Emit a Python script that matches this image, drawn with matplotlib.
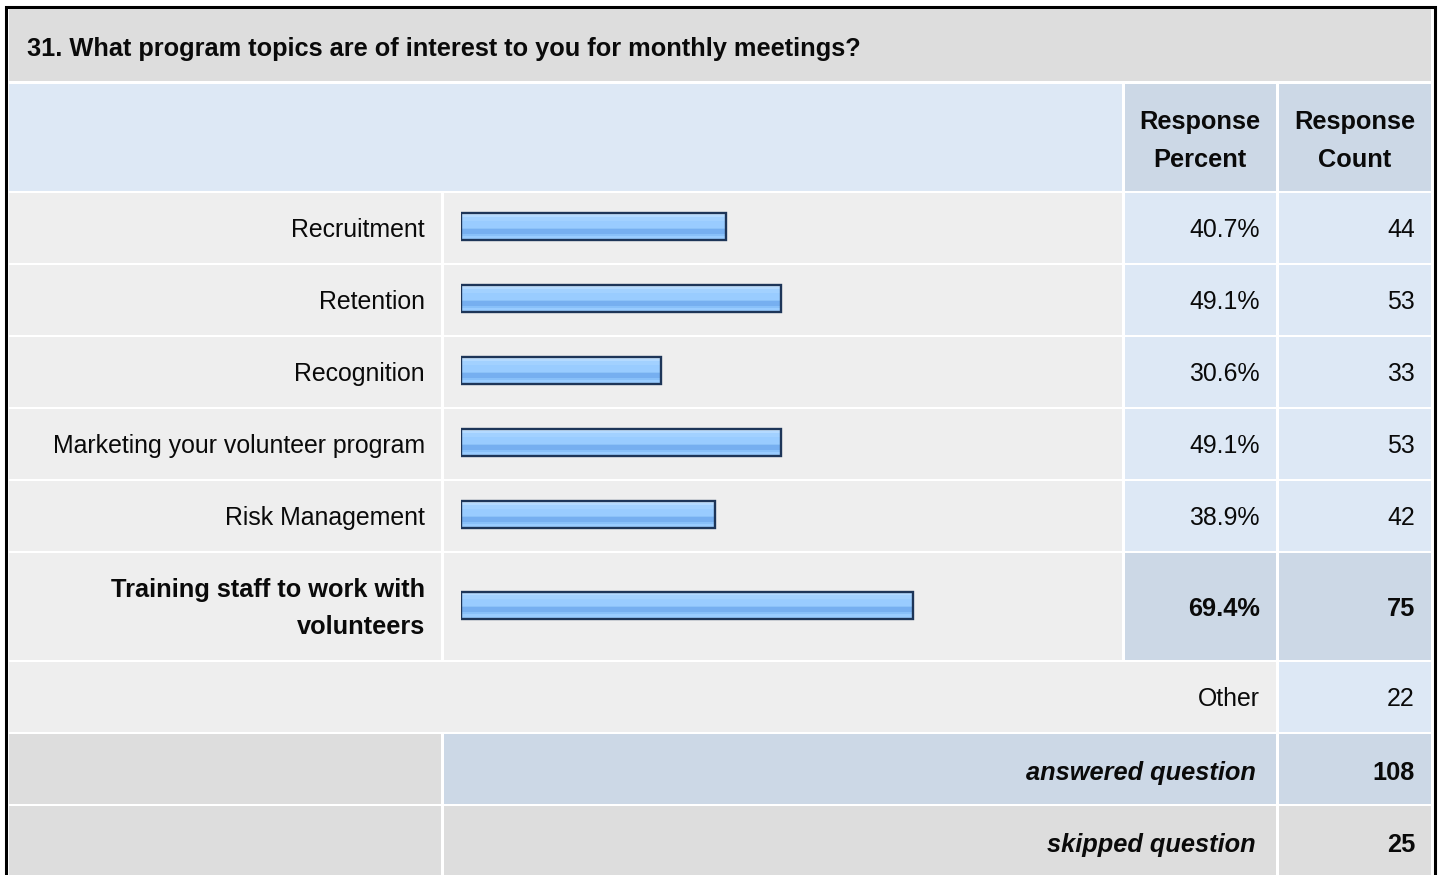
import numpy as np
import matplotlib
matplotlib.use("Agg")
import matplotlib.pyplot as plt
from matplotlib.patches import Rectangle
from matplotlib.colors import to_rgb

# ---- survey data ----
question = "31. What program topics are of interest to you for monthly meetings?"
topics = ["Recruitment", "Retention", "Recognition",
          "Marketing your volunteer program", "Risk Management",
          "Training staff to work with\nvolunteers"]
percents = [40.7, 49.1, 30.6, 49.1, 38.9, 69.4]
counts = [44, 53, 33, 53, 42, 75]
highlight = [False, False, False, False, False, True]
other_count = 22
answered = 108
skipped = 25

plt.rcParams['font.family'] = ['Liberation Sans', 'DejaVu Sans']

W, H = 1440, 875
fig = plt.figure(figsize=(W / 100, H / 100), dpi=100)
ax = fig.add_axes([0, 0, 1, 1])
ax.set_xlim(0, W)
ax.set_ylim(H, 0)
ax.axis('off')

FS = 17.9   # regular text
FSB = 18.3  # bold text
INK = '#0a0a0a'
GREY = "#dddddd"
LIGHT = "#eeeeee"
BLUE = "#dde8f5"
BLUE2 = "#ccd8e6"

# column edges
c_lab = (9, 441)
c_bar = (444, 1122)
c_pct = (1125, 1276)
c_cnt = (1279, 1431)
full = (9, 1431)


def cell(xr, yr, color):
    ax.add_patch(Rectangle((xr[0], yr[0]), xr[1] - xr[0], yr[1] - yr[0],
                           facecolor=color, edgecolor='none', zorder=1))


# outer frame
ax.add_patch(Rectangle((5.5, 6.5), 1429, 900, facecolor='white',
                       edgecolor='black', lw=2.2, zorder=0))

# title row
cell(full, (9, 81), GREY)
ax.text(27, 49, question, fontsize=FSB, fontweight='bold', ha='left',
        va='center', color=INK, zorder=3)

# header row
cell((9, 1122), (84, 191), BLUE)
cell(c_pct, (84, 191), BLUE2)
cell(c_cnt, (84, 191), BLUE2)
ax.text(1200, 141, "Response\nPercent", fontsize=FSB, fontweight='bold',
        ha='center', va='center', linespacing=1.7, color=INK, zorder=3)
ax.text(1355, 141, "Response\nCount", fontsize=FSB, fontweight='bold',
        ha='center', va='center', linespacing=1.7, color=INK, zorder=3)

# data rows
row_spans = [(193, 263), (265, 335), (337, 407), (409, 479), (481, 551),
             (553, 660)]
row_centers = []
for lab, pct, cnt, hi, yr in zip(topics, percents, counts, highlight,
                                 row_spans):
    cy = (yr[0] + yr[1]) / 2
    row_centers.append(cy)
    cell(c_lab, yr, LIGHT)
    cell(c_bar, yr, LIGHT)
    cell(c_pct, yr, BLUE2 if hi else BLUE)
    cell(c_cnt, yr, BLUE2 if hi else BLUE)
    w = 'bold' if hi else 'normal'
    fs = FSB if hi else FS
    ax.text(425, cy + 2, lab, fontsize=fs, fontweight=w, ha='right',
            va='center', ma='right', linespacing=1.72, color=INK,
            zorder=3)
    ax.text(1260, cy + 2, f"{pct:.1f}%", fontsize=fs, fontweight=w,
            ha='right', va='center', color=INK, zorder=3)
    ax.text(1415, cy + 2, f"{cnt}", fontsize=fs, fontweight=w,
            ha='right', va='center', color=INK, zorder=3)

# other row
yr = (662, 732)
cell((9, 1276), yr, LIGHT)
cell(c_cnt, yr, BLUE)
ax.text(1260, 699, "Other", fontsize=FS, ha='right', va='center',
        color=INK, zorder=3)
ax.text(1415, 699, f"{other_count}", fontsize=FS, ha='right', va='center',
        color=INK, zorder=3)

# answered row
yr = (734, 804)
cell(c_lab, yr, GREY)
cell((444, 1276), yr, BLUE2)
cell(c_cnt, yr, BLUE2)
ax.text(1256, 773, "answered question", fontsize=FSB, fontweight='bold',
        style='italic', ha='right', va='center', color=INK, zorder=3)
ax.text(1415, 773, f"{answered}", fontsize=FSB, fontweight='bold',
        ha='right', va='center', color=INK, zorder=3)

# skipped row
yr = (806, 880)
cell(c_lab, yr, GREY)
cell((444, 1276), yr, GREY)
cell(c_cnt, yr, GREY)
ax.text(1256, 845, "skipped question", fontsize=FSB, fontweight='bold',
        style='italic', ha='right', va='center', color=INK, zorder=3)
ax.text(1415, 845, f"{skipped}", fontsize=FSB, fontweight='bold',
        ha='right', va='center', color=INK, zorder=3)

# ---- bars: their own axes, 0..100 % across the bar column ----
bx = fig.add_axes([461 / W, 0, 652 / W, 1])
bx.set_xlim(0, 100)
bx.set_ylim(H, 0)
bx.axis('off')
bx.patch.set_alpha(0)

stripe = (["#cce6ff"] * 2 + ["#b4daff"] * 2 + ["#a2d1ff"] * 3 +
          ["#99ccff"] * 7 + ["#8cc2f8"] + ["#76aff0"] * 4 +
          ["#88c0f9"] * 2 + ["#99ccff"] * 4)
grad = np.array([to_rgb(c) for c in stripe])[:, None, :]

bar_h = 27
for pct, cy in zip(percents, row_centers):
    top = cy - 1.5 - bar_h / 2
    bot = top + bar_h
    bx.imshow(grad, extent=(0, pct, bot, top), aspect='auto',
              interpolation='nearest', origin='upper', zorder=2)
    bx.add_patch(Rectangle((0, top), pct, bar_h, facecolor='none',
                           edgecolor='#1d3558', lw=1.7, zorder=3))
bx.set_xlim(0, 100)
bx.set_ylim(H, 0)

fig.savefig("out.png", dpi=100)
